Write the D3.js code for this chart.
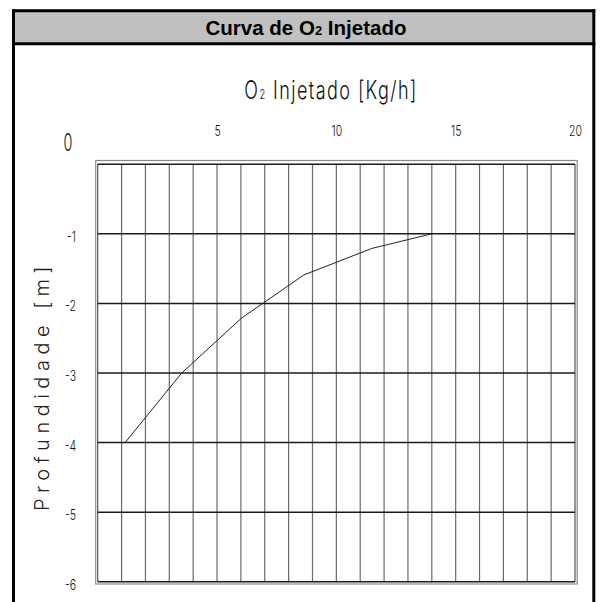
<!DOCTYPE html>
<html><head><meta charset="utf-8">
<script src="https://cdn.jsdelivr.net/npm/d3@7"></script>
<style>
html,body{margin:0;padding:0;background:#fff;}
svg{display:block;}
.cad{font-family:"Inter","DejaVu Sans",sans-serif;font-weight:300;fill:#111;}
.cady{font-family:"Inter","DejaVu Sans",sans-serif;font-weight:300;fill:#222;}
</style></head>
<body><svg id="c" width="600" height="602"></svg>
<script>
// ---- data ----
const o2Injected = [1.15, 3.52, 6.03, 8.64, 11.48, 13.99];   // kg/h
const depth      = [-4.0, -3.0, -2.21, -1.59, -1.21, -1.0];   // m
const xTicks = [5, 10, 15, 20];
const xTickLabels = ["5", "10", "15", "20"];
const yTicks = [-1, -2, -3, -4, -5, -6];
const yTickLabels = ["-1", "-2", "-3", "-4", "-5", "-6"];
const originLabel = "0";
const chartTitle = ["Curva de O", "2", " Injetado"];
const xTitle = ["O", "2", " Injetado [Kg/h]"];
const yTitle = "Profundidade [m]";

const svg = d3.select("#c");
svg.append("rect").attr("width",600).attr("height",602).attr("fill","#fff");

// title bar
svg.append("rect").attr("x",13.5).attr("y",10.8).attr("width",580.3).attr("height",33)
  .attr("fill","#c0c0c0").attr("stroke","none");
svg.append("line").attr("x1",12).attr("x2",595.3).attr("y1",10.8).attr("y2",10.8).attr("stroke","#000").attr("stroke-width",3);
svg.append("line").attr("x1",12).attr("x2",595.3).attr("y1",43.8).attr("y2",43.8).attr("stroke","#000").attr("stroke-width",3);
svg.append("line").attr("x1",13.5).attr("x2",13.5).attr("y1",9.3).attr("y2",602).attr("stroke","#000").attr("stroke-width",3);
svg.append("line").attr("x1",593.8).attr("x2",593.8).attr("y1",9.3).attr("y2",602).attr("stroke","#000").attr("stroke-width",3);

const t = svg.append("text").attr("x",306).attr("y",35).attr("text-anchor","middle")
  .style("font-family","Liberation Sans, Arial, sans-serif").style("font-weight","bold").style("font-size","20.5px").attr("fill","#000");
t.append("tspan").text(chartTitle[0]);
t.append("tspan").text(chartTitle[1]).style("font-size","13px");
t.append("tspan").text(chartTitle[2]);

// scales
const x = d3.scaleLinear().domain([0,20]).range([97.7,575]);
const y = d3.scaleLinear().domain([0,-6]).range([164.3,581.7]);

// outer frame
svg.append("rect").attr("x",95.7).attr("y",160.5).attr("width",481.5).attr("height",423.5)
  .attr("fill","none").attr("stroke","#8a8a8a").attr("stroke-width",1.2);

// vertical grid
const gx = svg.append("g");
gx.selectAll("line").data(d3.range(0,21)).join("line")
  .attr("x1",d=>x(d)).attr("x2",d=>x(d)).attr("y1",y(0)).attr("y2",y(-6))
  .attr("stroke",d=>(d===0||d===20)?"#555":"#6a6a6a").attr("stroke-width",1.2);
// horizontal grid
const gy = svg.append("g");
gy.selectAll("line").data(d3.range(0,-7,-1)).join("line")
  .attr("x1",x(0)).attr("x2",x(20)).attr("y1",d=>y(d)).attr("y2",d=>y(d))
  .attr("stroke","#1a1a1a").attr("stroke-width",1.5);

// curve
svg.append("path").datum(d3.zip(o2Injected, depth))
  .attr("d", d3.line().x(d=>x(d[0])).y(d=>y(d[1])))
  .attr("fill","none").attr("stroke","#222").attr("stroke-width",1);

// x axis labels (top)
const xa = svg.append("g").attr("transform","translate(0,136)")
  .call(d3.axisTop(x).tickValues(xTicks).tickFormat((d,i)=>xTickLabels[i]).tickSize(0).tickPadding(0));
xa.select(".domain").remove();
xa.selectAll("text").attr("class","cad").style("font-size","14px").attr("dy",0)
  .attr("transform","scale(0.75,1)");

// y axis labels
const ya = svg.append("g").attr("transform","translate(76,3)")
  .call(d3.axisLeft(y).tickValues(yTicks).tickFormat((d,i)=>yTickLabels[i]).tickSize(0).tickPadding(0));
ya.select(".domain").remove();
ya.selectAll("text").attr("class","cad").style("font-size","14px").attr("transform","scale(0.75,1)");

// origin label
svg.append("text").attr("class","cad").attr("transform","translate(68,151) scale(0.6,1)").attr("text-anchor","middle")
  .style("font-size","24px").text(originLabel);

// x title
const xt = svg.append("text").attr("class","cad").attr("transform","translate(331,99) scale(0.72,1)").attr("text-anchor","middle")
  .style("font-size","25px").style("letter-spacing","2px");
xt.append("tspan").text(xTitle[0]);
xt.append("tspan").text(xTitle[1]).style("font-size","13px");
xt.append("tspan").text(xTitle[2]);

// y title
svg.append("text").attr("class","cady").attr("transform","translate(49,386) rotate(-90)")
  .attr("text-anchor","middle").style("font-size","20px").style("letter-spacing","5.5px")
  .text(yTitle);
</script></body></html>
